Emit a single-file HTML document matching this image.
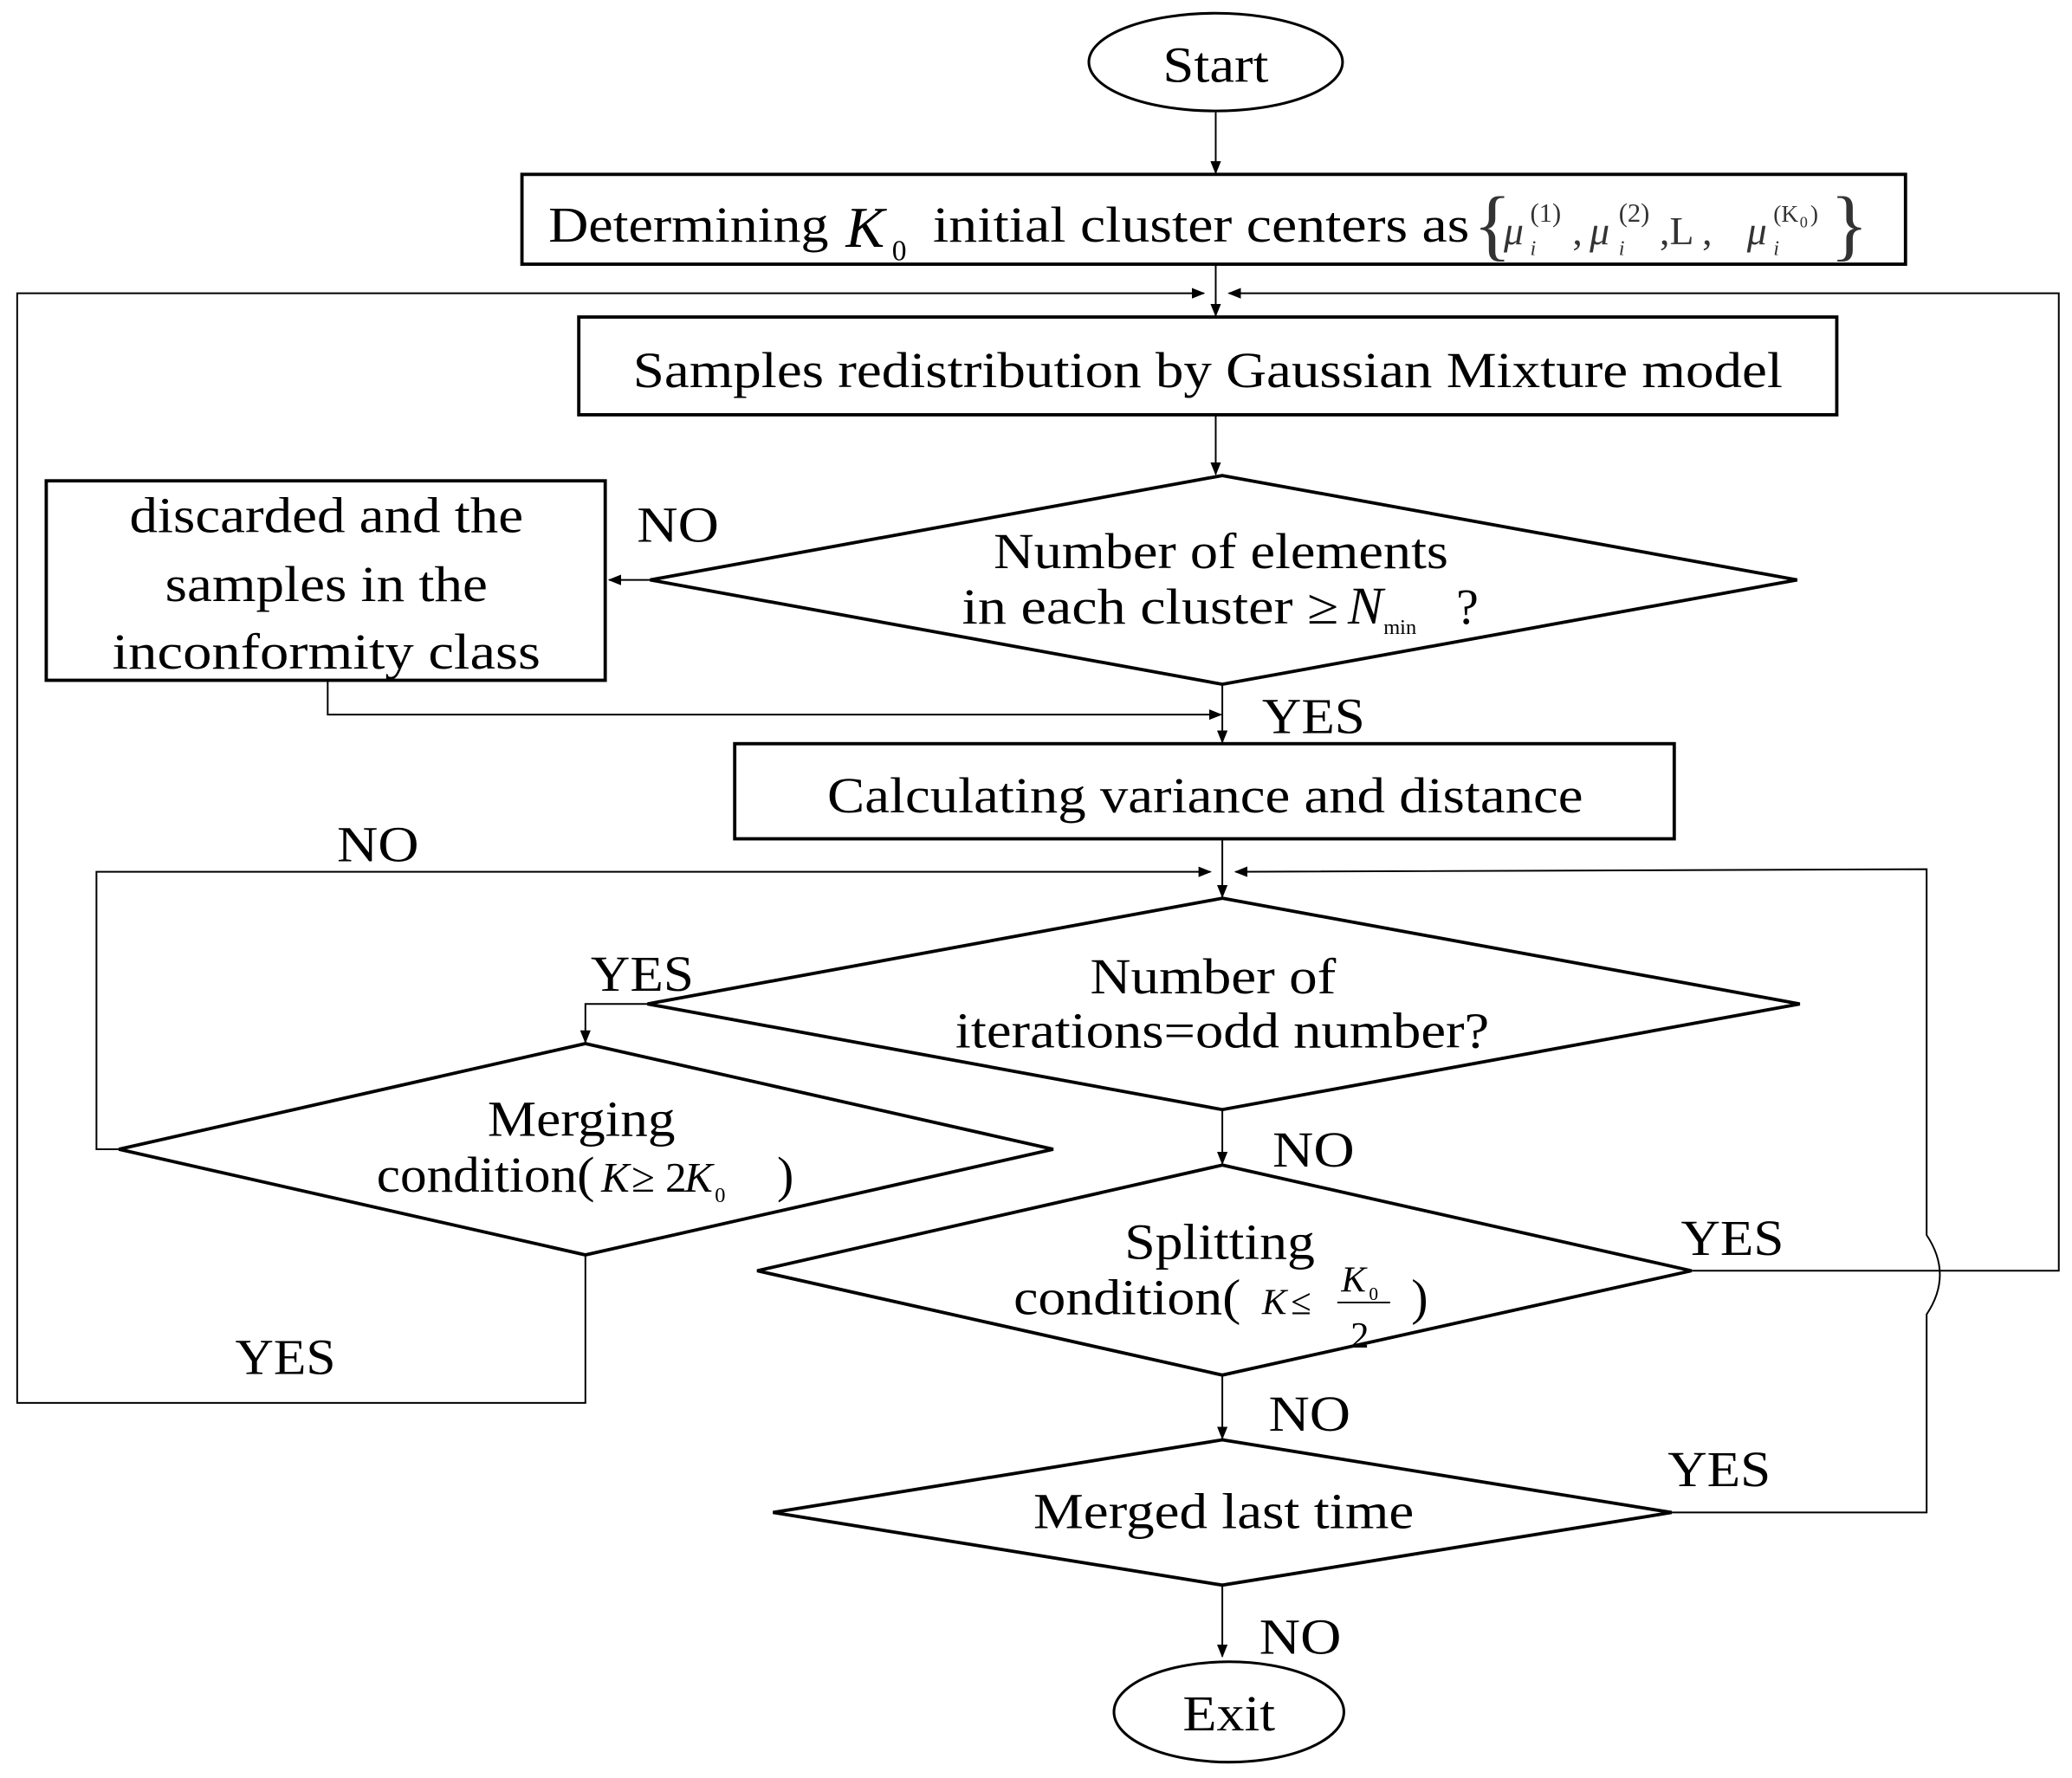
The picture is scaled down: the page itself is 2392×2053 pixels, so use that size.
<!DOCTYPE html>
<html><head><meta charset="utf-8"><style>html,body{margin:0;padding:0;background:#fff}svg{display:block}</style></head>
<body>
<svg xmlns="http://www.w3.org/2000/svg" width="2392" height="2053" viewBox="0 0 1568 1346" preserveAspectRatio="none" font-family="Liberation Serif, serif" fill="none" stroke="#000">
<defs><marker id="a" markerWidth="10" markerHeight="10" refX="9" refY="5" orient="auto" markerUnits="userSpaceOnUse"><path d="M0,1 L10,5 L0,9 z" fill="#000" stroke="none"/></marker></defs>
<g stroke-width="1.3">
<ellipse cx="920" cy="47" rx="96" ry="37" stroke-width="2"/>
<line x1="920" y1="85" x2="920" y2="131" marker-end="url(#a)"/>
<rect x="395" y="132" width="1047" height="68" stroke-width="2.5"/>
<line x1="920" y1="200" x2="920" y2="239" marker-end="url(#a)"/>
<polyline points="443,950 443,1062 13,1062 13,222 911,222" marker-end="url(#a)"/>
<polyline points="1280,962 1558,962 1558,222 930,222" marker-end="url(#a)"/>
<rect x="438" y="240" width="952" height="74" stroke-width="2.5"/>
<line x1="920" y1="314" x2="920" y2="359" marker-end="url(#a)"/>
<polygon points="925,360 1360,439 925,518 492,439" stroke-width="2.5"/>
<line x1="492" y1="439" x2="461" y2="439" marker-end="url(#a)"/>
<rect x="35" y="364" width="423" height="151" stroke-width="2.5"/>
<polyline points="248,515 248,541 924,541" marker-end="url(#a)"/>
<line x1="925" y1="518" x2="925" y2="562" marker-end="url(#a)"/>
<rect x="556" y="563" width="711" height="72" stroke-width="2.5"/>
<line x1="925" y1="635" x2="925" y2="679" marker-end="url(#a)"/>
<polyline points="90,870 73,870 73,660 916,660" marker-end="url(#a)"/>
<path d="M1265,1145 L1458,1145 L1458,995 Q1478,965 1458,935 L1458,658 L935,660" marker-end="url(#a)"/>
<polygon points="925,680 1362,760 925,840 490,760" stroke-width="2.5"/>
<polyline points="490,760 443,760 443,789" marker-end="url(#a)"/>
<polygon points="443,790 797,870 443,950 90,870" stroke-width="2.5"/>
<line x1="925" y1="840" x2="925" y2="881" marker-end="url(#a)"/>
<polygon points="925,882 1280,962 925,1041 573,962" stroke-width="2.5"/>
<line x1="925" y1="1041" x2="925" y2="1089" marker-end="url(#a)"/>
<polygon points="925,1090 1265,1145 925,1200 585,1145" stroke-width="2.5"/>
<line x1="925" y1="1200" x2="925" y2="1254" marker-end="url(#a)"/>
<ellipse cx="930" cy="1296" rx="87" ry="38" stroke-width="2"/>
</g>
<g fill="#000" stroke="none" font-size="38">
<text x="920" y="62" text-anchor="middle" textLength="80" lengthAdjust="spacingAndGlyphs">Start</text>
<text x="415" y="183" textLength="212" lengthAdjust="spacingAndGlyphs">Determining</text>
<text x="640" y="187" font-style="italic" font-size="44">K</text><text x="675" y="197" font-size="22">0</text>
<text x="706" y="183" textLength="406" lengthAdjust="spacingAndGlyphs">initial cluster centers as</text>
<g font-size="30" fill="#333"><text x="1115" y="190" font-size="60" font-weight="100">{</text>
<text x="1138" y="185" font-style="italic">μ</text><text x="1158" y="168" font-size="20">(1)</text><text x="1158" y="193" font-size="16" font-style="italic">i</text>
<text x="1190" y="185">,</text><text x="1203" y="185" font-style="italic">μ</text><text x="1225" y="168" font-size="20">(2)</text><text x="1225" y="193" font-size="16" font-style="italic">i</text>
<text x="1256" y="185">,L ,</text><text x="1322" y="185" font-style="italic">μ</text><text x="1342" y="168" font-size="18">(K</text><text x="1362" y="172" font-size="12">0</text><text x="1370" y="168" font-size="18">)</text><text x="1342" y="193" font-size="16" font-style="italic">i</text>
<text x="1385" y="190" font-size="60" font-weight="100">}</text></g>
<text x="914" y="293" text-anchor="middle" textLength="870" lengthAdjust="spacingAndGlyphs">Samples redistribution by Gaussian Mixture model</text>
<text x="924" y="430" text-anchor="middle" textLength="344" lengthAdjust="spacingAndGlyphs">Number of elements</text>
<text x="728" y="472" textLength="285" lengthAdjust="spacingAndGlyphs">in each cluster ≥</text>
<text x="1020" y="472" font-style="italic" font-size="40">N</text><text x="1047" y="480" font-size="16">min</text><text x="1102" y="472">?</text>
<text x="482" y="410" textLength="62" lengthAdjust="spacingAndGlyphs">NO</text>
<text x="247" y="403" text-anchor="middle" textLength="298" lengthAdjust="spacingAndGlyphs">discarded and the</text>
<text x="247" y="455" text-anchor="middle" textLength="244" lengthAdjust="spacingAndGlyphs">samples in the</text>
<text x="247" y="506" text-anchor="middle" textLength="324" lengthAdjust="spacingAndGlyphs">inconformity  class</text>
<text x="955" y="555" textLength="78" lengthAdjust="spacingAndGlyphs">YES</text>
<text x="912" y="615" text-anchor="middle" textLength="572" lengthAdjust="spacingAndGlyphs">Calculating variance and distance</text>
<text x="255" y="652" textLength="62" lengthAdjust="spacingAndGlyphs">NO</text>
<text x="918" y="752" text-anchor="middle" textLength="186" lengthAdjust="spacingAndGlyphs">Number of</text>
<text x="925" y="793" text-anchor="middle" textLength="404" lengthAdjust="spacingAndGlyphs">iterations=odd number?</text>
<text x="447" y="750" textLength="78" lengthAdjust="spacingAndGlyphs">YES</text>
<text x="440" y="860" text-anchor="middle" textLength="142" lengthAdjust="spacingAndGlyphs">Merging</text>
<text x="285" y="902" textLength="165" lengthAdjust="spacingAndGlyphs">condition(</text>
<text x="455" y="902" font-style="italic" font-size="32">K</text><text x="478" y="902" font-size="32">≥ 2</text><text x="518" y="902" font-style="italic" font-size="32">K</text><text x="541" y="910" font-size="16">0</text><text x="588" y="902">)</text>
<text x="963" y="883" textLength="62" lengthAdjust="spacingAndGlyphs">NO</text>
<text x="923" y="953" text-anchor="middle" textLength="144" lengthAdjust="spacingAndGlyphs">Splitting</text>
<text x="767" y="995" textLength="172" lengthAdjust="spacingAndGlyphs">condition(</text>
<text x="955" y="995" font-style="italic" font-size="28">K</text><text x="977" y="995" font-size="28">≤</text>
<text x="1015" y="978" font-style="italic" font-size="28">K</text><text x="1036" y="984" font-size="14">0</text>
<line x1="1012" y1="986" x2="1052" y2="986" stroke="#000" stroke-width="1.2"/>
<text x="1022" y="1020" font-size="28">2</text><text x="1068" y="995">)</text>
<text x="1272" y="950" textLength="78" lengthAdjust="spacingAndGlyphs">YES</text>
<text x="960" y="1083" textLength="62" lengthAdjust="spacingAndGlyphs">NO</text>
<text x="926" y="1157" text-anchor="middle" textLength="288" lengthAdjust="spacingAndGlyphs">Merged last time</text>
<text x="1262" y="1125" textLength="78" lengthAdjust="spacingAndGlyphs">YES</text>
<text x="953" y="1252" textLength="62" lengthAdjust="spacingAndGlyphs">NO</text>
<text x="178" y="1040" textLength="76" lengthAdjust="spacingAndGlyphs">YES</text>
<text x="930" y="1310" text-anchor="middle" textLength="70" lengthAdjust="spacingAndGlyphs">Exit</text>
</g>
</svg>
</body></html>
